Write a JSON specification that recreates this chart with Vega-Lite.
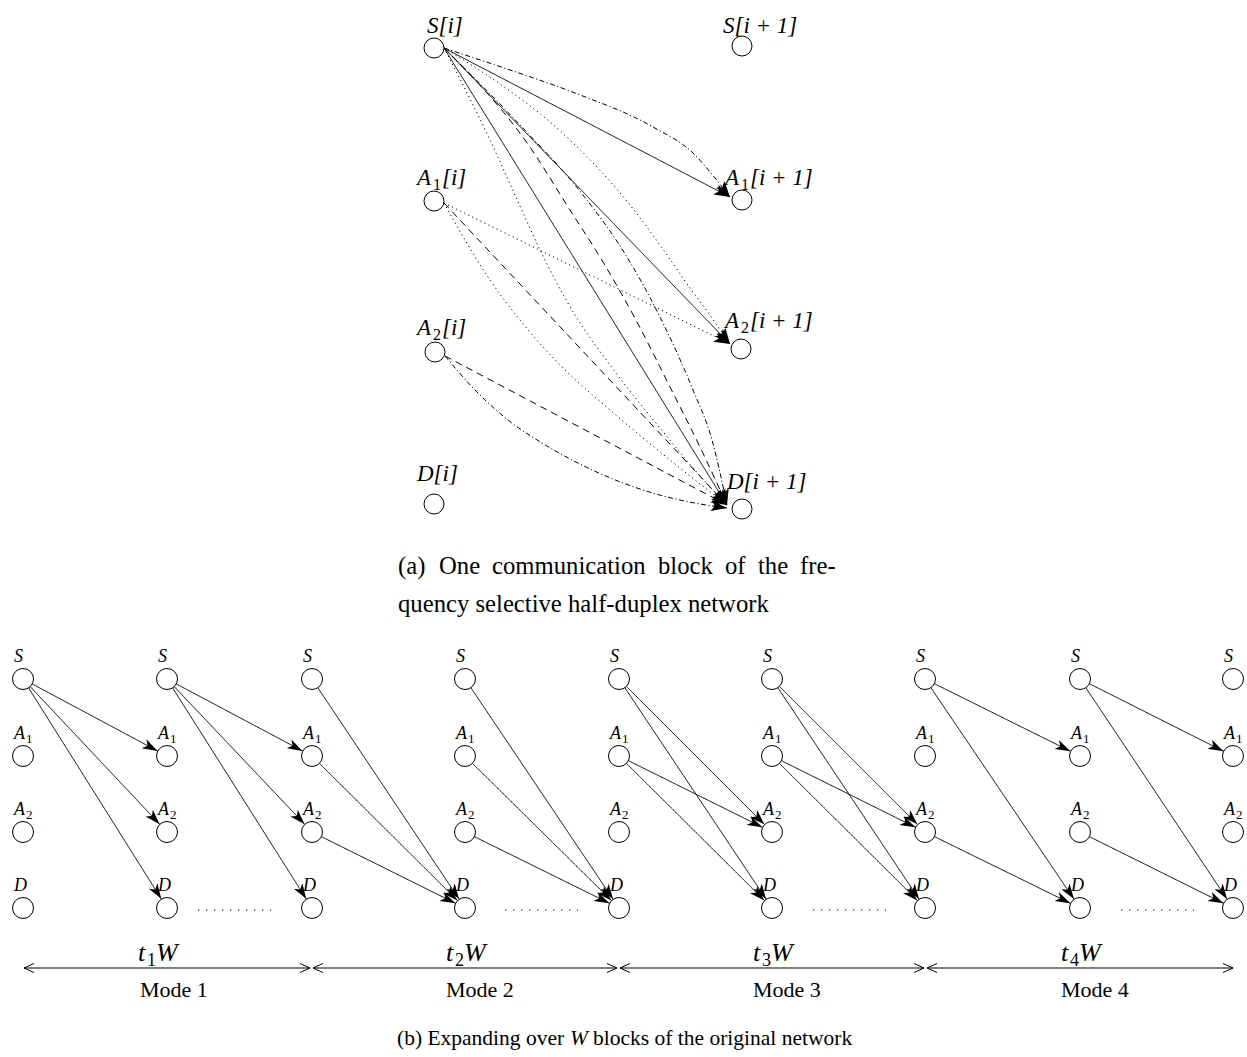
{
  "$schema": "https://vega.github.io/schema/vega-lite/v6.json",
  "width": 1247,
  "height": 1057,
  "padding": 0,
  "autosize": {"type": "none"},
  "background": "white",
  "config": {"view": {"stroke": null}},
  "datasets": {
    "straight": [
      {"x1": 444, "y1": 48, "x2": 730, "y2": 197, "s": "solid"},
      {"x1": 444, "y1": 48, "x2": 730, "y2": 344, "s": "solid"},
      {"x1": 444, "y1": 48, "x2": 727, "y2": 505, "s": "solid"},
      {"x1": 444, "y1": 203, "x2": 730, "y2": 344, "s": "dotted"},
      {"x1": 444, "y1": 203, "x2": 727, "y2": 505, "s": "dashed"},
      {"x1": 445, "y1": 356, "x2": 727, "y2": 505, "s": "dashed"},
      {"x1": 23, "y1": 679, "x2": 167, "y2": 756, "s": "solid"},
      {"x1": 23, "y1": 679, "x2": 167, "y2": 832, "s": "solid"},
      {"x1": 23, "y1": 679, "x2": 167, "y2": 908, "s": "solid"},
      {"x1": 167, "y1": 679, "x2": 312, "y2": 756, "s": "solid"},
      {"x1": 167, "y1": 679, "x2": 312, "y2": 832, "s": "solid"},
      {"x1": 167, "y1": 679, "x2": 312, "y2": 908, "s": "solid"},
      {"x1": 312, "y1": 679, "x2": 465, "y2": 908, "s": "solid"},
      {"x1": 312, "y1": 756, "x2": 465, "y2": 908, "s": "solid"},
      {"x1": 312, "y1": 832, "x2": 465, "y2": 908, "s": "solid"},
      {"x1": 465, "y1": 679, "x2": 619, "y2": 908, "s": "solid"},
      {"x1": 465, "y1": 756, "x2": 619, "y2": 908, "s": "solid"},
      {"x1": 465, "y1": 832, "x2": 619, "y2": 908, "s": "solid"},
      {"x1": 619, "y1": 679, "x2": 772, "y2": 832, "s": "solid"},
      {"x1": 619, "y1": 679, "x2": 772, "y2": 908, "s": "solid"},
      {"x1": 619, "y1": 756, "x2": 772, "y2": 832, "s": "solid"},
      {"x1": 619, "y1": 756, "x2": 772, "y2": 908, "s": "solid"},
      {"x1": 772, "y1": 679, "x2": 925, "y2": 832, "s": "solid"},
      {"x1": 772, "y1": 679, "x2": 925, "y2": 908, "s": "solid"},
      {"x1": 772, "y1": 756, "x2": 925, "y2": 832, "s": "solid"},
      {"x1": 772, "y1": 756, "x2": 925, "y2": 908, "s": "solid"},
      {"x1": 925, "y1": 679, "x2": 1080, "y2": 756, "s": "solid"},
      {"x1": 925, "y1": 679, "x2": 1080, "y2": 908, "s": "solid"},
      {"x1": 925, "y1": 832, "x2": 1080, "y2": 908, "s": "solid"},
      {"x1": 1080, "y1": 679, "x2": 1233, "y2": 756, "s": "solid"},
      {"x1": 1080, "y1": 679, "x2": 1233, "y2": 908, "s": "solid"},
      {"x1": 1080, "y1": 832, "x2": 1233, "y2": 908, "s": "solid"},
      {"x1": 198, "y1": 910, "x2": 271, "y2": 910, "s": "dots"},
      {"x1": 505, "y1": 910, "x2": 578, "y2": 910, "s": "dots"},
      {"x1": 813, "y1": 910, "x2": 886, "y2": 910, "s": "dots"},
      {"x1": 1121, "y1": 910, "x2": 1194, "y2": 910, "s": "dots"},
      {"x1": 24, "y1": 968, "x2": 310, "y2": 968, "s": "solid"},
      {"x1": 313, "y1": 968, "x2": 617, "y2": 968, "s": "solid"},
      {"x1": 620, "y1": 968, "x2": 924, "y2": 968, "s": "solid"},
      {"x1": 927, "y1": 968, "x2": 1233, "y2": 968, "s": "solid"}
    ],
    "curves": [
      {"e": "E2", "o": 1, "x": 444, "y": 48, "s": "dashdot"},
      {"e": "E2", "o": 2, "x": 510, "y": 70, "s": "dashdot"},
      {"e": "E2", "o": 3, "x": 575, "y": 93, "s": "dashdot"},
      {"e": "E2", "o": 4, "x": 653, "y": 127, "s": "dashdot"},
      {"e": "E2", "o": 5, "x": 693, "y": 153, "s": "dashdot"},
      {"e": "E2", "o": 6, "x": 715, "y": 178, "s": "dashdot"},
      {"e": "E2", "o": 7, "x": 730, "y": 197, "s": "dashdot"},
      {"e": "E4", "o": 1, "x": 444, "y": 48, "s": "dotted"},
      {"e": "E4", "o": 2, "x": 500, "y": 84, "s": "dotted"},
      {"e": "E4", "o": 3, "x": 550, "y": 122, "s": "dotted"},
      {"e": "E4", "o": 4, "x": 595, "y": 165, "s": "dotted"},
      {"e": "E4", "o": 5, "x": 630, "y": 205, "s": "dotted"},
      {"e": "E4", "o": 6, "x": 660, "y": 245, "s": "dotted"},
      {"e": "E4", "o": 7, "x": 690, "y": 288, "s": "dotted"},
      {"e": "E4", "o": 8, "x": 712, "y": 318, "s": "dotted"},
      {"e": "E4", "o": 9, "x": 730, "y": 344, "s": "dotted"},
      {"e": "E6", "o": 1, "x": 444, "y": 48, "s": "dashed"},
      {"e": "E6", "o": 2, "x": 480, "y": 85, "s": "dashed"},
      {"e": "E6", "o": 3, "x": 525, "y": 140, "s": "dashed"},
      {"e": "E6", "o": 4, "x": 570, "y": 210, "s": "dashed"},
      {"e": "E6", "o": 5, "x": 603, "y": 262, "s": "dashed"},
      {"e": "E6", "o": 6, "x": 637, "y": 322, "s": "dashed"},
      {"e": "E6", "o": 7, "x": 670, "y": 387, "s": "dashed"},
      {"e": "E6", "o": 8, "x": 700, "y": 447, "s": "dashed"},
      {"e": "E6", "o": 9, "x": 727, "y": 505, "s": "dashed"},
      {"e": "E7", "o": 1, "x": 444, "y": 48, "s": "dotted"},
      {"e": "E7", "o": 2, "x": 490, "y": 140, "s": "dotted"},
      {"e": "E7", "o": 3, "x": 515, "y": 195, "s": "dotted"},
      {"e": "E7", "o": 4, "x": 540, "y": 250, "s": "dotted"},
      {"e": "E7", "o": 5, "x": 575, "y": 315, "s": "dotted"},
      {"e": "E7", "o": 6, "x": 610, "y": 365, "s": "dotted"},
      {"e": "E7", "o": 7, "x": 660, "y": 428, "s": "dotted"},
      {"e": "E7", "o": 8, "x": 710, "y": 487, "s": "dotted"},
      {"e": "E7", "o": 9, "x": 727, "y": 505, "s": "dotted"},
      {"e": "E8", "o": 1, "x": 444, "y": 48, "s": "dashdot"},
      {"e": "E8", "o": 2, "x": 520, "y": 125, "s": "dashdot"},
      {"e": "E8", "o": 3, "x": 583, "y": 195, "s": "dashdot"},
      {"e": "E8", "o": 4, "x": 627, "y": 257, "s": "dashdot"},
      {"e": "E8", "o": 5, "x": 660, "y": 317, "s": "dashdot"},
      {"e": "E8", "o": 6, "x": 693, "y": 390, "s": "dashdot"},
      {"e": "E8", "o": 7, "x": 712, "y": 440, "s": "dashdot"},
      {"e": "E8", "o": 8, "x": 727, "y": 505, "s": "dashdot"},
      {"e": "E11", "o": 1, "x": 444, "y": 203, "s": "dotted"},
      {"e": "E11", "o": 2, "x": 465, "y": 240, "s": "dotted"},
      {"e": "E11", "o": 3, "x": 490, "y": 280, "s": "dotted"},
      {"e": "E11", "o": 4, "x": 520, "y": 320, "s": "dotted"},
      {"e": "E11", "o": 5, "x": 560, "y": 365, "s": "dotted"},
      {"e": "E11", "o": 6, "x": 610, "y": 410, "s": "dotted"},
      {"e": "E11", "o": 7, "x": 670, "y": 460, "s": "dotted"},
      {"e": "E11", "o": 8, "x": 727, "y": 505, "s": "dotted"},
      {"e": "E13", "o": 1, "x": 445, "y": 356, "s": "dashdot"},
      {"e": "E13", "o": 2, "x": 475, "y": 390, "s": "dashdot"},
      {"e": "E13", "o": 3, "x": 508, "y": 420, "s": "dashdot"},
      {"e": "E13", "o": 4, "x": 542, "y": 443, "s": "dashdot"},
      {"e": "E13", "o": 5, "x": 572, "y": 460, "s": "dashdot"},
      {"e": "E13", "o": 6, "x": 643, "y": 490, "s": "dashdot"},
      {"e": "E13", "o": 7, "x": 700, "y": 504, "s": "dashdot"},
      {"e": "E13", "o": 8, "x": 727, "y": 508, "s": "dashdot"}
    ],
    "topNodes": [
      {"x": 434, "y": 48}, {"x": 434, "y": 201}, {"x": 435, "y": 352}, {"x": 434, "y": 504},
      {"x": 742, "y": 46}, {"x": 742, "y": 200}, {"x": 741, "y": 349}, {"x": 742, "y": 509}
    ],
    "botNodes": [
      {"x": 23, "y": 679, "l": "S", "b": ""}, {"x": 23, "y": 756, "l": "A", "b": "1"}, {"x": 23, "y": 832, "l": "A", "b": "2"}, {"x": 23, "y": 908, "l": "D", "b": ""},
      {"x": 167, "y": 679, "l": "S", "b": ""}, {"x": 167, "y": 756, "l": "A", "b": "1"}, {"x": 167, "y": 832, "l": "A", "b": "2"}, {"x": 167, "y": 908, "l": "D", "b": ""},
      {"x": 312, "y": 679, "l": "S", "b": ""}, {"x": 312, "y": 756, "l": "A", "b": "1"}, {"x": 312, "y": 832, "l": "A", "b": "2"}, {"x": 312, "y": 908, "l": "D", "b": ""},
      {"x": 465, "y": 679, "l": "S", "b": ""}, {"x": 465, "y": 756, "l": "A", "b": "1"}, {"x": 465, "y": 832, "l": "A", "b": "2"}, {"x": 465, "y": 908, "l": "D", "b": ""},
      {"x": 619, "y": 679, "l": "S", "b": ""}, {"x": 619, "y": 756, "l": "A", "b": "1"}, {"x": 619, "y": 832, "l": "A", "b": "2"}, {"x": 619, "y": 908, "l": "D", "b": ""},
      {"x": 772, "y": 679, "l": "S", "b": ""}, {"x": 772, "y": 756, "l": "A", "b": "1"}, {"x": 772, "y": 832, "l": "A", "b": "2"}, {"x": 772, "y": 908, "l": "D", "b": ""},
      {"x": 925, "y": 679, "l": "S", "b": ""}, {"x": 925, "y": 756, "l": "A", "b": "1"}, {"x": 925, "y": 832, "l": "A", "b": "2"}, {"x": 925, "y": 908, "l": "D", "b": ""},
      {"x": 1080, "y": 679, "l": "S", "b": ""}, {"x": 1080, "y": 756, "l": "A", "b": "1"}, {"x": 1080, "y": 832, "l": "A", "b": "2"}, {"x": 1080, "y": 908, "l": "D", "b": ""},
      {"x": 1233, "y": 679, "l": "S", "b": ""}, {"x": 1233, "y": 756, "l": "A", "b": "1"}, {"x": 1233, "y": 832, "l": "A", "b": "2"}, {"x": 1233, "y": 908, "l": "D", "b": ""}
    ],
    "topArrows": [
      {"x": 730, "y": 197, "a": 27.5},
      {"x": 730, "y": 197, "a": 51.7},
      {"x": 730, "y": 344, "a": 46.0},
      {"x": 730, "y": 344, "a": 55.3},
      {"x": 730, "y": 344, "a": 26.2},
      {"x": 727, "y": 505, "a": 58.2},
      {"x": 727, "y": 505, "a": 65.0},
      {"x": 727, "y": 505, "a": 46.6},
      {"x": 727, "y": 505, "a": 77.0},
      {"x": 727, "y": 505, "a": 46.9},
      {"x": 727, "y": 505, "a": 38.3},
      {"x": 727, "y": 505, "a": 27.8},
      {"x": 727, "y": 508, "a": 8.4}
    ],
    "botArrows": [
      {"x": 167, "y": 756, "a": 28.1}, {"x": 167, "y": 832, "a": 46.7}, {"x": 167, "y": 908, "a": 57.8},
      {"x": 312, "y": 756, "a": 28.0}, {"x": 312, "y": 832, "a": 46.5}, {"x": 312, "y": 908, "a": 57.7},
      {"x": 465, "y": 908, "a": 56.3}, {"x": 465, "y": 908, "a": 44.8}, {"x": 465, "y": 908, "a": 26.4},
      {"x": 619, "y": 908, "a": 56.1}, {"x": 619, "y": 908, "a": 44.6}, {"x": 619, "y": 908, "a": 26.3},
      {"x": 772, "y": 832, "a": 45.0}, {"x": 772, "y": 908, "a": 56.3}, {"x": 772, "y": 832, "a": 26.4}, {"x": 772, "y": 908, "a": 44.8},
      {"x": 925, "y": 832, "a": 45.0}, {"x": 925, "y": 908, "a": 56.3}, {"x": 925, "y": 832, "a": 26.4}, {"x": 925, "y": 908, "a": 44.8},
      {"x": 1080, "y": 756, "a": 26.4}, {"x": 1080, "y": 908, "a": 55.9}, {"x": 1080, "y": 908, "a": 26.1},
      {"x": 1233, "y": 756, "a": 26.7}, {"x": 1233, "y": 908, "a": 56.3}, {"x": 1233, "y": 908, "a": 26.4}
    ],
    "openArrows": [
      {"x": 24, "y": 968, "a": 180}, {"x": 310, "y": 968, "a": 0},
      {"x": 313, "y": 968, "a": 180}, {"x": 617, "y": 968, "a": 0},
      {"x": 620, "y": 968, "a": 180}, {"x": 924, "y": 968, "a": 0},
      {"x": 927, "y": 968, "a": 180}, {"x": 1233, "y": 968, "a": 0}
    ],
    "texts": [
      {"k": "tl", "x": 427, "y": 33, "t": "S[i]"},
      {"k": "tl", "x": 417, "y": 185, "t": "A"},
      {"k": "tlsub", "x": 433, "y": 190, "t": "1"},
      {"k": "tl", "x": 442, "y": 185, "t": "[i]"},
      {"k": "tl", "x": 417, "y": 335, "t": "A"},
      {"k": "tlsub", "x": 433, "y": 340, "t": "2"},
      {"k": "tl", "x": 442, "y": 335, "t": "[i]"},
      {"k": "tl", "x": 417, "y": 481, "t": "D[i]"},
      {"k": "tl", "x": 723, "y": 33, "t": "S[i + 1]"},
      {"k": "tl", "x": 725, "y": 185, "t": "A"},
      {"k": "tlsub", "x": 741, "y": 190, "t": "1"},
      {"k": "tl", "x": 750, "y": 185, "t": "[i + 1]"},
      {"k": "tl", "x": 725, "y": 328, "t": "A"},
      {"k": "tlsub", "x": 741, "y": 333, "t": "2"},
      {"k": "tl", "x": 750, "y": 328, "t": "[i + 1]"},
      {"k": "tl", "x": 727, "y": 489, "t": "D[i + 1]"},
      {"k": "capa", "x": 398, "y": 574, "t": "(a)"},
      {"k": "capa", "x": 439, "y": 574, "t": "One"},
      {"k": "capa", "x": 492, "y": 574, "t": "communication"},
      {"k": "capa", "x": 658, "y": 574, "t": "block"},
      {"k": "capa", "x": 725, "y": 574, "t": "of"},
      {"k": "capa", "x": 758, "y": 574, "t": "the"},
      {"k": "capa", "x": 800, "y": 574, "t": "fre-"},
      {"k": "capa", "x": 398, "y": 612, "t": "quency selective half-duplex network"},
      {"k": "cap", "x": 397, "y": 1045, "t": "(b) Expanding over"},
      {"k": "capi", "x": 570, "y": 1045, "t": "W"},
      {"k": "cap", "x": 593, "y": 1045, "t": "blocks of the original network"},
      {"k": "twl", "x": 138, "y": 961, "t": "t"},
      {"k": "twsub", "x": 147, "y": 966, "t": "1"},
      {"k": "twl", "x": 156, "y": 961, "t": "W"},
      {"k": "twl", "x": 446, "y": 961, "t": "t"},
      {"k": "twsub", "x": 455, "y": 966, "t": "2"},
      {"k": "twl", "x": 464, "y": 961, "t": "W"},
      {"k": "twl", "x": 753, "y": 961, "t": "t"},
      {"k": "twsub", "x": 762, "y": 966, "t": "3"},
      {"k": "twl", "x": 771, "y": 961, "t": "W"},
      {"k": "twl", "x": 1061, "y": 961, "t": "t"},
      {"k": "twsub", "x": 1070, "y": 966, "t": "4"},
      {"k": "twl", "x": 1079, "y": 961, "t": "W"},
      {"k": "mode", "x": 140, "y": 997, "t": "Mode 1"},
      {"k": "mode", "x": 446, "y": 997, "t": "Mode 2"},
      {"k": "mode", "x": 753, "y": 997, "t": "Mode 3"},
      {"k": "mode", "x": 1061, "y": 997, "t": "Mode 4"}
    ]
  },
  "layer": [
    {
      "data": {"name": "straight"},
      "mark": {"type": "rule", "color": "black", "strokeWidth": 1},
      "encoding": {
        "x": {"field": "x1", "type": "quantitative", "scale": {"domain": [0, 1247], "range": [0, 1247], "nice": false}, "axis": null},
        "y": {"field": "y1", "type": "quantitative", "scale": {"domain": [0, 1057], "range": [0, 1057], "nice": false}, "axis": null},
        "x2": {"field": "x2"},
        "y2": {"field": "y2"},
        "strokeDash": {"field": "s", "type": "nominal", "legend": null,
          "scale": {"domain": ["solid", "dashed", "dotted", "dashdot", "dots"], "range": [[1, 0], [7, 5], [1.2, 3.3], [5, 2.5, 1.2, 2.5], [1.3, 6.7]]}}
      }
    },
    {
      "data": {"name": "curves"},
      "mark": {"type": "line", "color": "black", "strokeWidth": 1, "interpolate": "monotone"},
      "encoding": {
        "x": {"field": "x", "type": "quantitative", "scale": {"domain": [0, 1247], "range": [0, 1247], "nice": false}, "axis": null},
        "y": {"field": "y", "type": "quantitative", "scale": {"domain": [0, 1057], "range": [0, 1057], "nice": false}, "axis": null},
        "detail": {"field": "e", "type": "nominal"},
        "order": {"field": "o", "type": "quantitative"},
        "strokeDash": {"field": "s", "type": "nominal", "legend": null,
          "scale": {"domain": ["solid", "dashed", "dotted", "dashdot", "dots"], "range": [[1, 0], [7, 5], [1.2, 3.3], [5, 2.5, 1.2, 2.5], [1.3, 6.7]]}}
      }
    },
    {
      "data": {"name": "topNodes"},
      "mark": {"type": "point", "shape": "circle", "filled": true, "fill": "white", "stroke": "black", "strokeWidth": 1, "size": 400, "opacity": 1},
      "encoding": {
        "x": {"field": "x", "type": "quantitative", "axis": null},
        "y": {"field": "y", "type": "quantitative", "axis": null}
      }
    },
    {
      "data": {"name": "botNodes"},
      "mark": {"type": "point", "shape": "circle", "filled": true, "fill": "white", "stroke": "black", "strokeWidth": 1, "size": 441, "opacity": 1},
      "encoding": {
        "x": {"field": "x", "type": "quantitative", "axis": null},
        "y": {"field": "y", "type": "quantitative", "axis": null}
      }
    },
    {
      "data": {"name": "botNodes"},
      "mark": {"type": "text", "font": "Liberation Serif", "fontStyle": "italic", "fontSize": 18, "align": "left", "baseline": "alphabetic", "dx": -9, "dy": -17, "color": "black"},
      "encoding": {
        "x": {"field": "x", "type": "quantitative", "axis": null},
        "y": {"field": "y", "type": "quantitative", "axis": null},
        "text": {"field": "l"}
      }
    },
    {
      "data": {"name": "botNodes"},
      "mark": {"type": "text", "font": "Liberation Serif", "fontSize": 13, "align": "left", "baseline": "alphabetic", "dx": 3, "dy": -13, "color": "black"},
      "encoding": {
        "x": {"field": "x", "type": "quantitative", "axis": null},
        "y": {"field": "y", "type": "quantitative", "axis": null},
        "text": {"field": "b"}
      }
    },
    {
      "data": {"name": "topArrows"},
      "mark": {"type": "point", "shape": "M0,0 L-1.6,-0.55 L-1.25,0 L-1.6,0.55 Z", "filled": true, "fill": "black", "strokeWidth": 0, "size": 400, "opacity": 1},
      "encoding": {
        "x": {"field": "x", "type": "quantitative", "axis": null},
        "y": {"field": "y", "type": "quantitative", "axis": null},
        "angle": {"field": "a", "type": "quantitative", "scale": null}
      }
    },
    {
      "data": {"name": "botArrows"},
      "mark": {"type": "point", "shape": "M-1.08,0 L-2.6,-0.5 L-2.2,0 L-2.6,0.5 Z", "filled": true, "fill": "black", "strokeWidth": 0, "size": 400, "opacity": 1},
      "encoding": {
        "x": {"field": "x", "type": "quantitative", "axis": null},
        "y": {"field": "y", "type": "quantitative", "axis": null},
        "angle": {"field": "a", "type": "quantitative", "scale": null}
      }
    },
    {
      "data": {"name": "openArrows"},
      "mark": {"type": "point", "shape": "M-1,-0.45 L0,0 L-1,0.45", "filled": false, "stroke": "black", "strokeWidth": 1, "size": 400, "opacity": 1},
      "encoding": {
        "x": {"field": "x", "type": "quantitative", "axis": null},
        "y": {"field": "y", "type": "quantitative", "axis": null},
        "angle": {"field": "a", "type": "quantitative", "scale": null}
      }
    },
    {
      "data": {"name": "texts"},
      "transform": [{"filter": "datum.k === 'tl'"}],
      "mark": {"type": "text", "font": "Liberation Serif", "fontStyle": "italic", "fontSize": 23, "align": "left", "baseline": "alphabetic", "color": "black"},
      "encoding": {
        "x": {"field": "x", "type": "quantitative", "axis": null},
        "y": {"field": "y", "type": "quantitative", "axis": null},
        "text": {"field": "t"}
      }
    },
    {
      "data": {"name": "texts"},
      "transform": [{"filter": "datum.k === 'tlsub'"}],
      "mark": {"type": "text", "font": "Liberation Serif", "fontSize": 16, "align": "left", "baseline": "alphabetic", "color": "black"},
      "encoding": {
        "x": {"field": "x", "type": "quantitative", "axis": null},
        "y": {"field": "y", "type": "quantitative", "axis": null},
        "text": {"field": "t"}
      }
    },
    {
      "data": {"name": "texts"},
      "transform": [{"filter": "datum.k === 'capa'"}],
      "mark": {"type": "text", "font": "Liberation Serif", "fontSize": 24.7, "align": "left", "baseline": "alphabetic", "color": "black"},
      "encoding": {
        "x": {"field": "x", "type": "quantitative", "axis": null},
        "y": {"field": "y", "type": "quantitative", "axis": null},
        "text": {"field": "t"}
      }
    },
    {
      "data": {"name": "texts"},
      "transform": [{"filter": "datum.k === 'cap'"}],
      "mark": {"type": "text", "font": "Liberation Serif", "fontSize": 21.5, "align": "left", "baseline": "alphabetic", "color": "black"},
      "encoding": {
        "x": {"field": "x", "type": "quantitative", "axis": null},
        "y": {"field": "y", "type": "quantitative", "axis": null},
        "text": {"field": "t"}
      }
    },
    {
      "data": {"name": "texts"},
      "transform": [{"filter": "datum.k === 'capi'"}],
      "mark": {"type": "text", "font": "Liberation Serif", "fontStyle": "italic", "fontSize": 21.5, "align": "left", "baseline": "alphabetic", "color": "black"},
      "encoding": {
        "x": {"field": "x", "type": "quantitative", "axis": null},
        "y": {"field": "y", "type": "quantitative", "axis": null},
        "text": {"field": "t"}
      }
    },
    {
      "data": {"name": "texts"},
      "transform": [{"filter": "datum.k === 'twl'"}],
      "mark": {"type": "text", "font": "Liberation Serif", "fontStyle": "italic", "fontSize": 26, "align": "left", "baseline": "alphabetic", "color": "black"},
      "encoding": {
        "x": {"field": "x", "type": "quantitative", "axis": null},
        "y": {"field": "y", "type": "quantitative", "axis": null},
        "text": {"field": "t"}
      }
    },
    {
      "data": {"name": "texts"},
      "transform": [{"filter": "datum.k === 'twsub'"}],
      "mark": {"type": "text", "font": "Liberation Serif", "fontSize": 18, "align": "left", "baseline": "alphabetic", "color": "black"},
      "encoding": {
        "x": {"field": "x", "type": "quantitative", "axis": null},
        "y": {"field": "y", "type": "quantitative", "axis": null},
        "text": {"field": "t"}
      }
    },
    {
      "data": {"name": "texts"},
      "transform": [{"filter": "datum.k === 'mode'"}],
      "mark": {"type": "text", "font": "Liberation Serif", "fontSize": 22, "align": "left", "baseline": "alphabetic", "color": "black"},
      "encoding": {
        "x": {"field": "x", "type": "quantitative", "axis": null},
        "y": {"field": "y", "type": "quantitative", "axis": null},
        "text": {"field": "t"}
      }
    }
  ]
}
